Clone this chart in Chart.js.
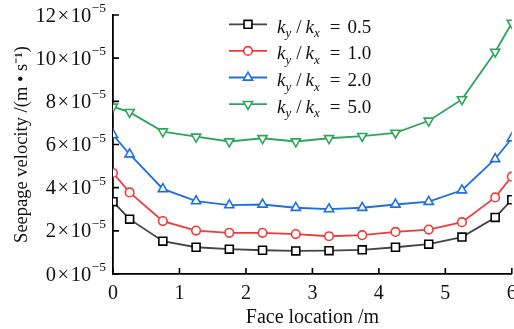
<!DOCTYPE html>
<html>
<head>
<meta charset="utf-8">
<script src="https://cdn.jsdelivr.net/npm/chart.js@4.4.1/dist/chart.umd.min.js"></script>
<style>
  html, body { margin: 0; padding: 0; background: #fff; overflow: hidden; }
  #wrap { width: 519px; height: 329px; }
</style>
</head>
<body>
<div id="wrap"><canvas id="chart" width="519" height="329"></canvas></div>
<script>
// face positions (m) and seepage velocity (x10^-5 m/s)
const positions = [0, 0.25, 0.75, 1.25, 1.75, 2.25, 2.75, 3.25, 3.75, 4.25, 4.75, 5.25, 5.75, 6];
const ratio05 = [3.35, 2.54, 1.52, 1.24, 1.15, 1.10, 1.07, 1.08, 1.12, 1.24, 1.38, 1.71, 2.62, 3.44];
const ratio10 = [4.68, 3.78, 2.45, 2.01, 1.91, 1.91, 1.85, 1.75, 1.80, 1.95, 2.06, 2.40, 3.55, 4.51];
const ratio20 = [6.45, 5.55, 3.94, 3.38, 3.19, 3.22, 3.07, 3.01, 3.07, 3.22, 3.35, 3.88, 5.33, 6.29];
const ratio50 = [7.75, 7.50, 6.60, 6.36, 6.14, 6.29, 6.14, 6.29, 6.39, 6.54, 7.10, 8.09, 10.29, 11.63];
const ratioLabels = ['0.5', '1.0', '2.0', '5.0'];
const xTicks = [0, 1, 2, 3, 4, 5, 6];
const yTicks = [0, 2, 4, 6, 8, 10, 12];

const FONT = '"Liberation Serif", "Times New Roman", serif';

function series(values, label, color, pointColor, style, radius, rotation) {
  return {
    label: label,
    data: positions.map((x, i) => ({ x: x, y: values[i] })),
    borderColor: color,
    borderWidth: 1.8,
    pointStyle: style,
    pointRadius: radius,
    pointHoverRadius: radius,
    pointRotation: rotation,
    pointBorderColor: pointColor,
    pointBackgroundColor: '#fff',
    pointBorderWidth: 1.6,
    tension: 0
  };
}

const datasets = [
  series(ratio05, ratioLabels[0], '#444444', '#000000', 'rect', 5.6, 0),
  series(ratio10, ratioLabels[1], '#ee3b3b', '#ee3b3b', 'circle', 4.3, 0),
  series(ratio20, ratioLabels[2], '#1e6fe0', '#1e6fe0', 'triangle', 5.3, 0),
  series(ratio50, ratioLabels[3], '#2ea55a', '#2ea55a', 'triangle', 5.3, 180)
];

// inward tick marks and y labels with a real superscript
const axisExtras = {
  id: 'axisExtras',
  afterDraw(chart) {
    const ctx = chart.ctx;
    const xs = chart.scales.x, ys = chart.scales.y;
    ctx.save();
    ctx.strokeStyle = '#000';
    ctx.lineWidth = 1.6;
    ctx.beginPath();
    xTicks.forEach(v => {
      const px = xs.getPixelForValue(v);
      ctx.moveTo(px, ys.bottom);
      ctx.lineTo(px, ys.bottom - 6);
    });
    yTicks.forEach(v => {
      const py = ys.getPixelForValue(v);
      ctx.moveTo(xs.left, py);
      ctx.lineTo(xs.left + 6, py);
    });
    ctx.stroke();

    ctx.fillStyle = '#111';
    ctx.textAlign = 'left';
    ctx.textBaseline = 'alphabetic';
    const right = xs.left - 7;
    const main = '20.5px ' + FONT, small = '13.5px ' + FONT;
    yTicks.forEach(v => {
      const py = ys.getPixelForValue(v);
      const parts = [[String(v), main, 6.5, 1.5], ['×', main, 6.5, 1.5], ['10', main, 6.5, 0.5], ['\u22125', small, -3, 0]];
      let total = 0;
      parts.forEach(p => { ctx.font = p[1]; total += ctx.measureText(p[0]).width + p[3]; });
      let tx = right - total;
      parts.forEach(p => {
        ctx.font = p[1];
        ctx.fillText(p[0], tx, py + p[2]);
        tx += ctx.measureText(p[0]).width + p[3];
      });
    });
    ctx.restore();
  }
};

// legend with subscripts
const subLegend = {
  id: 'subLegend',
  afterDraw(chart) {
    const ctx = chart.ctx;
    const x0 = 229, y0 = 24.3, gap = 26.6;
    chart.data.datasets.forEach((ds, i) => {
      const y = y0 + i * gap;
      ctx.save();
      ctx.strokeStyle = ds.borderColor;
      ctx.lineWidth = 1.8;
      ctx.beginPath();
      ctx.moveTo(x0, y);
      ctx.lineTo(x0 + 38, y);
      ctx.stroke();
      ctx.fillStyle = '#fff';
      ctx.strokeStyle = ds.pointBorderColor;
      ctx.lineWidth = ds.pointBorderWidth;
      Chart.helpers.drawPoint(ctx, {
        pointStyle: ds.pointStyle, radius: ds.pointRadius,
        borderWidth: ds.pointBorderWidth, rotation: ds.pointRotation
      }, x0 + 19, y);

      ctx.fillStyle = '#111';
      ctx.textAlign = 'left';
      ctx.textBaseline = 'alphabetic';
      const base = y + 8.5;
      let tx = 277;
      const put = (txt, font, dy, after) => {
        ctx.font = font;
        ctx.fillText(txt, tx, base + dy);
        tx += ctx.measureText(txt).width + after;
      };
      put('k', 'italic 19px ' + FONT, 0, 0);
      put('y', 'italic 13px ' + FONT, 4.5, 5);
      put('/', '19px ' + FONT, 0, 4);
      put('k', 'italic 19px ' + FONT, 0, 0);
      put('x', 'italic 13px ' + FONT, 4.5, 10);
      put('=', '19px ' + FONT, 0, 7);
      put(ds.label, '19px ' + FONT, 0, 0);
      ctx.restore();
    });
  }
};

new Chart(document.getElementById('chart'), {
  type: 'line',
  data: { datasets: datasets },
  plugins: [axisExtras, subLegend],
  options: {
    responsive: false,
    devicePixelRatio: 1,
    animation: false,
    layout: { padding: { top: 15, right: 0, bottom: 0, left: 0 } },
    plugins: { legend: { display: false }, tooltip: { enabled: false } },
    scales: {
      x: {
        type: 'linear',
        min: 0, max: 6,
        afterBuildTicks: s => { s.ticks = xTicks.map(v => ({ value: v })); },
        grid: { display: false },
        border: { display: true, color: '#000', width: 1.8 },
        ticks: { color: '#111', font: { family: FONT, size: 20 }, padding: 0, maxRotation: 0 },
        title: { display: true, text: 'Face location /m', color: '#111',
                 font: { family: FONT, size: 20 }, padding: { top: 0, bottom: -1 } },
        afterFit: s => { s.height = 55; }
      },
      y: {
        min: 0, max: 12,
        afterBuildTicks: s => { s.ticks = yTicks.map(v => ({ value: v })); },
        grid: { display: false },
        border: { display: true, color: '#000', width: 1.8 },
        ticks: { display: false },
        title: { display: true, text: 'Seepage velocity /(m • s⁻¹)', color: '#111',
                 font: { family: FONT, size: 18.5 }, padding: { top: 11, bottom: 4 } },
        afterFit: s => { s.width = 113; }
      }
    }
  }
});
</script>
</body>
</html>
